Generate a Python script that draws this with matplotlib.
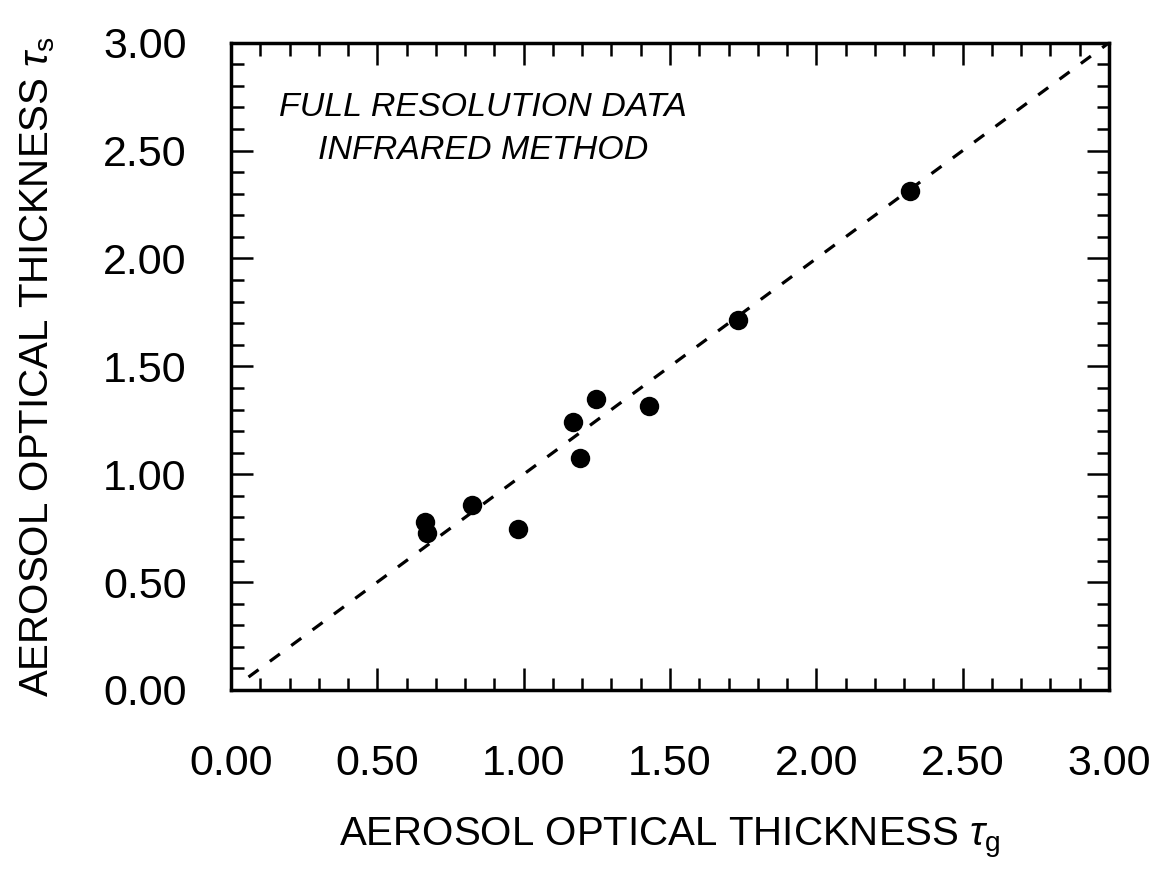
import matplotlib
matplotlib.use("Agg")
import matplotlib.pyplot as plt
import matplotlib.ticker as mticker

# ── Data ──
tau_g = [0.663, 0.669, 0.822, 0.982, 1.170, 1.192, 1.247, 1.427, 1.732, 2.320]
tau_s = [0.780, 0.726, 0.857, 0.748, 1.243, 1.073, 1.347, 1.317, 1.715, 2.312]
one_to_one = [0.06, 3.00]
tick_vals = [0.0, 0.5, 1.0, 1.5, 2.0, 2.5, 3.0]
note_lines = ["FULL RESOLUTION DATA", "INFRARED METHOD"]

# ── Style ──
plt.rcParams.update({
    "font.family": ["Liberation Sans", "DejaVu Sans"],
    "mathtext.fontset": "custom",
    "mathtext.rm": "Liberation Sans",
    "mathtext.it": "Liberation Sans:italic",
})

fig = plt.figure(figsize=(11.63, 8.81), dpi=100)
ax = fig.add_axes([0.1986, 0.2168, 0.9536 - 0.1986, 0.9515 - 0.2168])

# 1:1 line
ax.plot(one_to_one, one_to_one, color="black", lw=2.3,
        linestyle=(0, (3.9, 4.4)), zorder=2)

# Observations
ax.plot(tau_g, tau_s, "o", color="black", markersize=14,
        markeredgewidth=0, zorder=3)

ax.set_xlim(0, 3.0)
ax.set_ylim(0, 3.0)
ax.xaxis.set_major_locator(mticker.FixedLocator(tick_vals))
ax.yaxis.set_major_locator(mticker.FixedLocator(tick_vals))
ax.xaxis.set_minor_locator(mticker.MultipleLocator(0.1))
ax.yaxis.set_minor_locator(mticker.MultipleLocator(0.1))
ax.xaxis.set_major_formatter(mticker.FormatStrFormatter("%.2f"))
ax.yaxis.set_major_formatter(mticker.FormatStrFormatter("%.2f"))

ax.tick_params(which="both", direction="in", top=True, right=True,
               width=1.8, color="black")
ax.tick_params(which="major", length=16)
ax.tick_params(which="minor", length=9)
ax.tick_params(axis="x", which="major", labelsize=31, pad=39)
ax.tick_params(axis="y", which="major", labelsize=31, pad=32)

for spine in ax.spines.values():
    spine.set_linewidth(2.5)

ax.set_xlabel(r"AEROSOL OPTICAL THICKNESS $\tau_{\mathrm{g}}$", fontsize=29,
              labelpad=22)
ax.set_ylabel(r"AEROSOL OPTICAL THICKNESS $\tau_{\mathrm{s}}$", fontsize=29,
              labelpad=33)

# Annotation
ax.text(0.86, 2.70, note_lines[0], fontsize=24.5, style="italic",
        ha="center", va="center")
ax.text(0.86, 2.50, note_lines[1], fontsize=24.5, style="italic",
        ha="center", va="center")

fig.savefig("out.png", dpi=100)
plt.close(fig)
